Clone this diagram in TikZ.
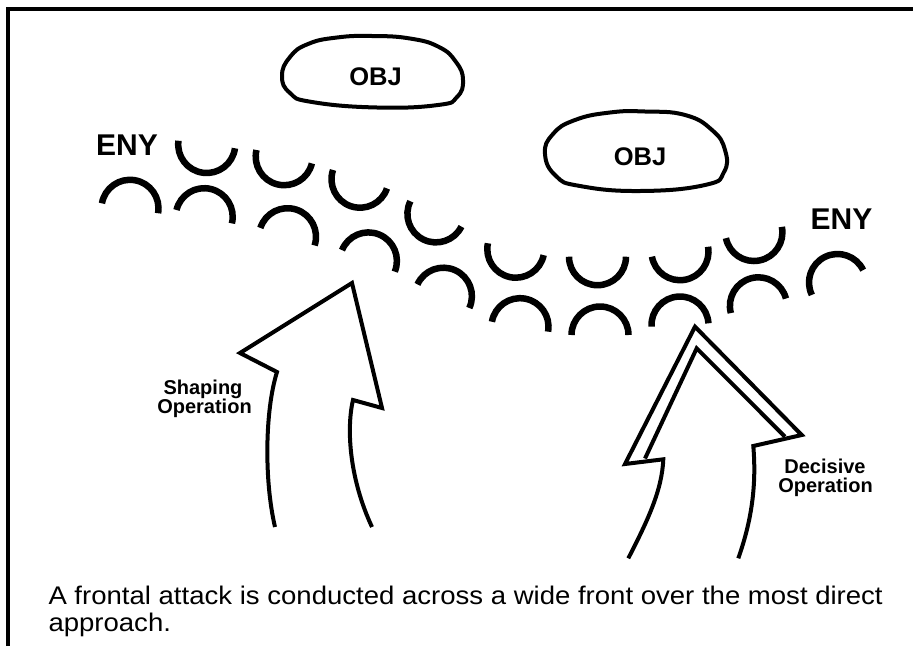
\documentclass[tikz,border=0pt]{standalone}
\usepackage{fontspec}
\setmainfont{Liberation Sans}
\tikzset{
  frameline/.style={line width=4.5pt, line join=miter},
  enyarc/.style={line width=6.5pt, line cap=butt},
  objline/.style={line width=4pt, line join=round},
  arrowline/.style={line width=4pt, line join=miter, miter limit=20},
  lbl/.style={font=\bfseries\fontsize{20}{19}\selectfont, inner sep=0pt, anchor=base},
  enytxt/.style={font=\bfseries\fontsize{30}{30}\selectfont, inner sep=0pt, anchor=base},
  objtxt/.style={font=\bfseries\fontsize{25.5}{26}\selectfont, inner sep=0pt, anchor=base},
  captxt/.style={font=\fontsize{25.5}{27}\selectfont, inner sep=0pt, anchor=base west},
  cup/.pic={\draw[enyarc] (#1:28.5) arc[start angle=#1, delta angle=180, radius=28.5];},
  cap/.pic={\draw[enyarc] (#1+180:28.5) arc[start angle=#1+180, delta angle=180, radius=28.5];},
}
\begin{document}
\begin{tikzpicture}[x=1pt,y=-1pt]
\useasboundingbox (0,0) rectangle (913,646);
% frame
\draw[frameline] (8,646) -- (8,9) -- (913,9);
% objectives
\draw[objline] plot[smooth cycle, tension=0.8] coordinates {(282,76) (290,57) (308,44) (337,37.5) (372,36) (410,38.5) (439,47) (456,62) (463,80) (457,97) (438,105) (377,107.5) (312,102) (290,93)};
\draw[objline] plot[smooth cycle, tension=0.8] coordinates {(545,154) (553,134) (575,120) (610,112.5) (645,111.5) (685,115) (712,130) (725,150) (724,172) (705,185) (640,191) (580,186) (556,176)};
\node[objtxt] (obj1) at (375.5,85) {OBJ};
\node[objtxt] (obj2) at (640,165) {OBJ};
% enemy labels
\node[enytxt] (eny1) at (127,155) {ENY};
\node[enytxt] (eny2) at (841.5,229.3) {ENY};
% enemy arcs: upper row (cups)
\pic at (206.7,144.5) {cup=7.6};
\pic at (284.2,156.7) {cup=13.6};
\pic at (360,179.2) {cup=18.9};
\pic at (435.9,213.9) {cup=26.4};
\pic at (515.8,249.2) {cup=12};
\pic at (597.5,256.7) {cup=0};
\pic at (680,251.7) {cup=-10};
\pic at (753.9,232.5) {cup=-11.4};
% enemy arcs: lower row (caps)
\pic at (130,208.3) {cap=10};
\pic at (204.2,216.7) {cap=13.6};
\pic at (287.5,236.7) {cap=17.9};
\pic at (368.4,260.9) {cap=22.2};
\pic at (443.4,296.2) {cap=24.5};
\pic at (520,326.7) {cap=10};
\pic at (600,335) {cap=0};
\pic at (680,325) {cap=-3.4};
\pic at (758.4,305.8) {cap=-14.8};
\pic at (837.5,282.5) {cap=-25.8};
% shaping operation arrow
\draw[arrowline] (275,527) .. controls (264,480) and (265,410) .. (277,372)
  -- (240,353) -- (352,283) -- (382,408) -- (353,400)
  .. controls (346,430) and (350,480) .. (372,527);
\node[lbl] (shp1) at (203,394) {Shaping};
\node[lbl] (shp2) at (204.5,413) {Operation};
% decisive operation arrow
\draw[arrowline] (628.3,558.3) .. controls (648,520) and (662,490) .. (663.3,459.3)
  -- (625,464) -- (695,326.7) -- (801.7,435) -- (753.3,446)
  .. controls (757,490) and (750,525) .. (738.3,558.3);
\draw[arrowline] (645,458.5) -- (696.7,348.3) -- (785,436.7);
\node[lbl] (dec1) at (825,473) {Decisive};
\node[lbl] (dec2) at (825.5,492.7) {Operation};
% caption
\node[captxt] (cap1) at (48.3,604.3) {\scalebox{1.08}[1]{A frontal attack is conducted across a wide front over the most direct}};
\node[captxt] (cap2) at (48.3,631) {\scalebox{1.08}[1]{approach.}};
\end{tikzpicture}
\end{document}
